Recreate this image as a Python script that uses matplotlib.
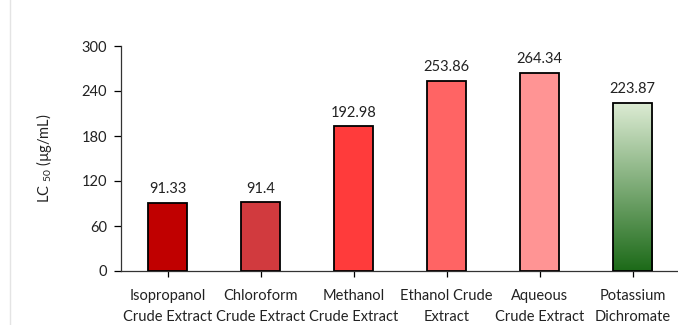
import numpy as np
import matplotlib.pyplot as plt
from matplotlib.colors import LinearSegmentedColormap

plt.rcParams["font.family"] = ["Lato", "DejaVu Sans"]
plt.rcParams["mathtext.fontset"] = "custom"
plt.rcParams["mathtext.rm"] = "Lato"
plt.rcParams["mathtext.it"] = "Lato:italic"

categories = [
    "Isopropanol\nCrude Extract",
    "Chloroform\nCrude Extract",
    "Methanol\nCrude Extract",
    "Ethanol Crude\nExtract",
    "Aqueous\nCrude Extract",
    "Potassium\nDichromate",
]
lc50 = [91.33, 91.4, 192.98, 253.86, 264.34, 223.87]
value_labels = ["91.33", "91.4", "192.98", "253.86", "264.34", "223.87"]
yticks = [0, 60, 120, 180, 240, 300]

bar_colors = ["#C00000", "#D13A3E", "#FF3B3B", "#FF6464", "#FF9494", None]
green_top, green_bottom = "#DCEBD3", "#1C6A18"

fig = plt.figure(figsize=(6.78, 3.25), dpi=100)
ax = fig.add_axes([121 / 678, 54 / 325, 558 / 678, 225 / 325])

x = np.arange(len(categories))
bars = ax.bar(x, lc50, width=0.43,
              color=[c if c else "none" for c in bar_colors],
              edgecolor="black", linewidth=1.3, zorder=3)

# green gradient fill for the reference compound, clipped to its bar
grad = LinearSegmentedColormap.from_list("grn", [green_bottom, green_top])
last = bars[-1]
bx, bw, bh = last.get_x(), last.get_width(), last.get_height()
img = ax.imshow(np.linspace(0, 1, 256).reshape(-1, 1), cmap=grad, origin="lower",
                extent=[bx, bx + bw, 0, bh], aspect="auto", zorder=2)
img.set_clip_path(last)

fs = 10.5
for xi, v, lab in zip(x, lc50, value_labels):
    ax.text(xi, v + 9, lab, ha="center", va="bottom", fontsize=fs, color="#222222")

ax.set_xlim(-0.5, len(categories) - 0.5)
ax.set_ylim(0, 300)
ax.set_yticks(yticks)
ax.set_xticks(x)
ax.set_xticklabels(categories, fontsize=fs, linespacing=1.6, color="#222222")
ax.tick_params(axis="y", labelsize=fs, length=5, width=0.9, pad=5, labelcolor="#222222")
ax.tick_params(axis="x", length=4, width=0.9, pad=9)
ax.spines["top"].set_visible(False)
ax.spines["right"].set_visible(False)
for s in ("left", "bottom"):
    ax.spines[s].set_linewidth(0.9)
    ax.spines[s].set_color("#333333")

ax.set_ylabel("LC $_{50}$ (µg/mL)", fontsize=fs, labelpad=20, color="#222222")

# thin page border on the left
fig.add_artist(plt.Line2D([10 / 678, 10 / 678], [0, 1], color="#E4E4E4", lw=1))

fig.savefig("out.png", dpi=100)
